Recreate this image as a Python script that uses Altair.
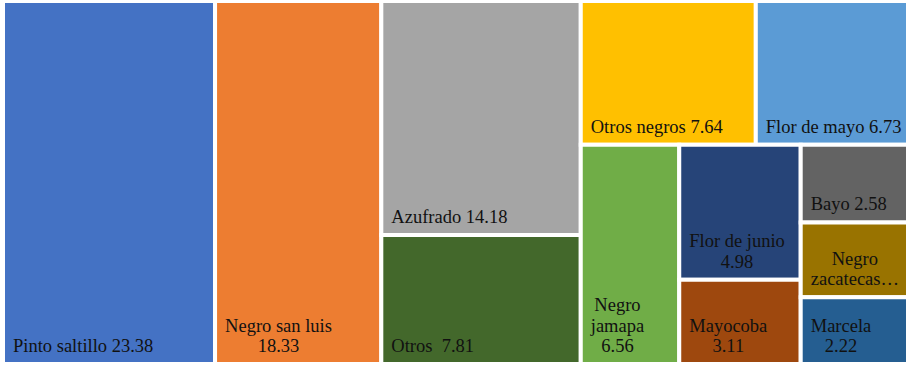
import altair as alt
import pandas as pd

# ---- data ----
categories = ["Pinto saltillo", "Negro san luis", "Azufrado", "Otros", "Otros negros",
              "Flor de mayo", "Negro jamapa", "Flor de junio", "Mayocoba", "Bayo",
              "Negro zacatecas", "Marcela"]
values = [23.38, 18.33, 14.18, 7.81, 7.64, 6.73, 6.56, 4.98, 3.11, 2.58, 2.48, 2.22]
labels = ["Pinto saltillo 23.38", "Negro san luis\n18.33", "Azufrado 14.18", "Otros \u00a07.81",
          "Otros negros 7.64", "Flor de mayo 6.73", "Negro\njamapa\n6.56",
          "Flor de junio\n4.98", "Mayocoba\n3.11", "Bayo 2.58", "Negro\nzacatecas…",
          "Marcela\n2.22"]
colors = ["#4472C4", "#ED7D31", "#A5A5A5", "#43682B", "#FFC000", "#5B9BD5",
          "#70AD47", "#264478", "#9E480E", "#636363", "#997300", "#255E91"]
# treemap strips (groups of items laid out together) and their direction
strips = [[0], [1], [2, 3], [4, 5], [6], [7, 8], [9, 10, 11]]
strip_dirs = ["col", "col", "col", "row", "col", "col", "col"]

# ---- sizes ----
LW, LH = 907.0, 363.0          # full treemap area (slightly wider than visible)
VIS_W = 903                    # visible plot width
FONT = 18.5
LINE_H = 20.5
PAD_X, PAD_Y = 10.0, 0.0

# Times / Liberation Serif advance widths (per 1000 em)
CW = {" ": 250, "\u00a0": 250, ".": 250, "…": 1000, "A": 722, "B": 667, "F": 556, "M": 889,
      "N": 722, "O": 722, "P": 556, "a": 444, "b": 500, "c": 444, "d": 500, "e": 444,
      "f": 333, "g": 500, "i": 278, "j": 278, "l": 278, "m": 778, "n": 500, "o": 500,
      "p": 500, "r": 333, "s": 389, "t": 278, "u": 500, "y": 500, "z": 444}


def text_width(s):
    return max(sum(CW.get(c, 500) for c in line) for line in s.split("\n")) * FONT / 1000.0


# ---- strip layout computed from the values ----
rows = []
x, y, w, h = 0.0, 0.0, LW, LH
remaining = sum(values)
for strip, d in zip(strips, strip_dirs):
    sv = sum(values[i] for i in strip)
    if d == "col":
        sw = w * sv / remaining
        cy = y
        for i in strip:
            ih = h * values[i] / sv
            rows.append((i, x, x + sw, cy, cy + ih))
            cy += ih
        x += sw
        w -= sw
    else:
        sh = h * sv / remaining
        cx = x
        for i in strip:
            iw = w * values[i] / sv
            rows.append((i, cx, cx + iw, y, y + sh))
            cx += iw
        y += sh
        h -= sh
    remaining -= sv

recs = []
for i, x0, x1, y0, y1 in rows:
    nlines = labels[i].count("\n") + 1
    recs.append({
        "cat": categories[i], "value": values[i], "label": labels[i],
        "x0": x0, "x1": x1, "y0": y0, "y1": y1,
        "tx": x0 + PAD_X + text_width(labels[i]) / 2.0,
        "ty": y1 - PAD_Y - (nlines - 1) * LINE_H,
    })
df = pd.DataFrame(recs)

xs = alt.Scale(domain=[0, VIS_W], nice=False, zero=False)
ys = alt.Scale(domain=[0, LH], nice=False, zero=False, reverse=True)

rects = alt.Chart(df).mark_rect(clip=True, stroke="white", strokeWidth=4).encode(
    x=alt.X("x0:Q", scale=xs, axis=None),
    x2="x1:Q",
    y=alt.Y("y0:Q", scale=ys, axis=None),
    y2="y1:Q",
    color=alt.Color("cat:N", scale=alt.Scale(domain=categories, range=colors), legend=None),
    tooltip=["cat:N", "value:Q"],
)

texts = alt.Chart(df).mark_text(
    align="center", baseline="bottom", font="Liberation Serif", fontSize=FONT,
    lineBreak="\n", lineHeight=LINE_H, dy=-8, color="#111111",
).encode(
    x=alt.X("tx:Q", scale=xs, axis=None),
    y=alt.Y("ty:Q", scale=ys, axis=None),
    text="label:N",
)

chart = (rects + texts).properties(
    width=VIS_W, height=int(LH),
    padding={"left": 3, "top": 1, "right": 0, "bottom": 2},
    autosize="none",
).configure_view(stroke=None)

chart.save("out.html", embed_options={"renderer": "svg", "actions": False})
